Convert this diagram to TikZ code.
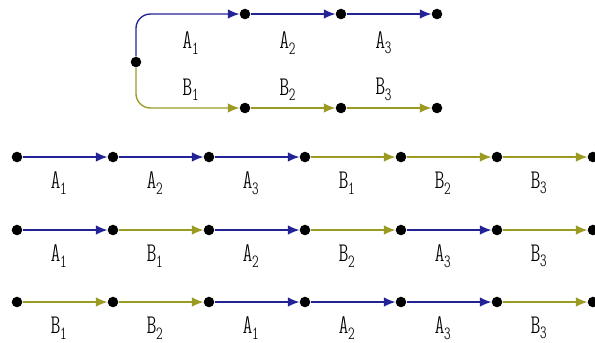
\documentclass[tikz,border=0pt]{standalone}
\usepackage{tikz}
\usetikzlibrary{arrows.meta}
\definecolor{pathA}{RGB}{35,35,150}
\definecolor{pathB}{RGB}{155,155,35}
\newcommand{\lab}[2]{#1\raisebox{-0.5ex}{\fontsize{11}{11}\selectfont #2}}

\begin{document}
\begin{tikzpicture}[
    dot/.style={circle, fill=black, inner sep=0pt, minimum size=0.22cm},
    ea/.style={draw=pathA, line width=0.8pt, -{Latex[length=2.4mm,width=2mm]}},
    eb/.style={draw=pathB, line width=0.8pt, -{Latex[length=2.4mm,width=2mm]}},
    lbl/.style={font=\fontsize{16}{18}\fontseries{lc}\ttfamily\selectfont, inner sep=0pt}
]
\useasboundingbox (0,0) rectangle (12.396,-7.125);
% split into two branches
\node[dot] (s) at (2.833,-1.292) {};
\node[dot] (a1) at (5.104,-0.292) {};
\node[dot] (a2) at (7.104,-0.292) {};
\node[dot] (a3) at (9.104,-0.292) {};
\node[dot] (b1) at (5.104,-2.25) {};
\node[dot] (b2) at (7.104,-2.25) {};
\node[dot] (b3) at (9.104,-2.25) {};
\draw[ea, rounded corners=0.3cm] (s) |- (a1);
\draw[ea] (a1) -- (a2);
\draw[ea] (a2) -- (a3);
\draw[eb, rounded corners=0.3cm] (s) |- (b1);
\draw[eb] (b1) -- (b2);
\draw[eb] (b2) -- (b3);
\node[lbl] (la1) at (3.97,-0.89) {\lab{A}{1}};
\node[lbl] (la2) at (5.99,-0.89) {\lab{A}{2}};
\node[lbl] (la3) at (7.99,-0.89) {\lab{A}{3}};
\node[lbl] (lb1) at (3.97,-1.87) {\lab{B}{1}};
\node[lbl] (lb2) at (5.99,-1.87) {\lab{B}{2}};
\node[lbl] (lb3) at (7.99,-1.87) {\lab{B}{3}};
% the three interleavings
\foreach \y/\r in {-3.271/p, -4.792/q, -6.292/r}
  \foreach \k in {0,...,6}
    \node[dot] (\r\k) at (0.354+2*\k,\y) {};
\foreach \r/\seq in {p/{ea/A/1,ea/A/2,ea/A/3,eb/B/1,eb/B/2,eb/B/3},
                     q/{ea/A/1,eb/B/1,ea/A/2,eb/B/2,ea/A/3,eb/B/3},
                     r/{eb/B/1,eb/B/2,ea/A/1,ea/A/2,ea/A/3,eb/B/3}}
  \foreach \st/\t/\n [count=\k] in \seq {
    \pgfmathtruncatemacro{\j}{\k-1}
    \draw[\st] (\r\j) -- node[lbl, xshift=-0.13cm, yshift=-0.54cm] {\lab{\t}{\n}} (\r\k);
  }
\end{tikzpicture}
\end{document}
